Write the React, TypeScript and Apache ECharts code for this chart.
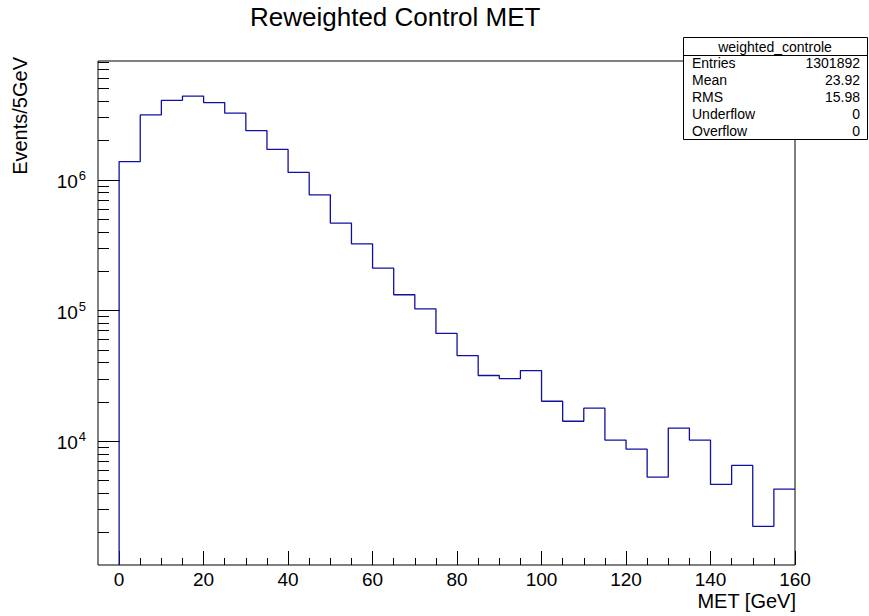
import React, { useEffect, useRef } from 'react';
import * as echarts from 'echarts';

// Histogram bins (lower edges, GeV) and contents (events per 5 GeV)
const binLowEdges = [0, 5, 10, 15, 20, 25, 30, 35, 40, 45, 50, 55, 60, 65, 70, 75, 80, 85, 90, 95, 100, 105, 110, 115, 120, 125, 130, 135, 140, 145, 150, 155];
const binUpperEdge = 160;
const eventsPerBin = [
  1.38e6, 3.14e6, 4.06e6, 4.38e6, 3.9e6, 3.24e6, 2.38e6, 1.71e6, 1.14e6, 7.68e5,
  4.67e5, 3.24e5, 2.11e5, 1.32e5, 1.03e5, 6.68e4, 4.52e4, 3.18e4, 3.01e4, 3.47e4,
  2.02e4, 1.42e4, 1.79e4, 1.02e4, 8.69e3, 5.31e3, 1.26e4, 1.02e4, 4.67e3, 6.52e3,
  2.23e3, 4.3e3,
];

const xMin = -5;
const xMax = 160;
const yMin = 1128;
const yMax = 8.12e6;

const xMajorTicks = [0, 20, 40, 60, 80, 100, 120, 140, 160];
const xMinorTicks = [5, 10, 15, 25, 30, 35, 45, 50, 55, 65, 70, 75, 85, 90, 95, 105, 110, 115, 125, 130, 135, 145, 150, 155];
const yMajorTicks = [1e4, 1e5, 1e6];
const yMinorTicks = [
  2e3, 3e3, 4e3, 5e3, 6e3, 7e3, 8e3, 9e3,
  2e4, 3e4, 4e4, 5e4, 6e4, 7e4, 8e4, 9e4,
  2e5, 3e5, 4e5, 5e5, 6e5, 7e5, 8e5, 9e5,
  2e6, 3e6, 4e6, 5e6, 6e6, 7e6, 8e6,
];

const chartTitle = 'Reweighted Control MET';
const xTitle = 'MET [GeV]';
const yTitle = 'Events/5GeV';
const statsName = 'weighted_controle';
const statsLabels = ['Entries', 'Mean', 'RMS', 'Underflow', 'Overflow'];
const statsValues = ['1301892', '23.92', '15.98', '0', '0'];

const FONT = '"Liberation Sans", Arial, Helvetica, sans-serif';

export default function App() {
  const ref = useRef<HTMLDivElement>(null);

  useEffect(() => {
    if (!ref.current) return;
    const chart = echarts.init(ref.current, undefined, { renderer: 'svg' });

    const histData: [number, number][] = [[binLowEdges[0], yMin]];
    binLowEdges.forEach((e, i) => histData.push([e, eventsPerBin[i]]));
    histData.push([binUpperEdge, eventsPerBin[eventsPerBin.length - 1]]);

    const gL = 98, gT = 61, gW = 697, gH = 504;

    const boxX = 683, boxY = 37, boxW = 184, boxH = 102, headH = 18;
    const rowH = (boxH - headH) / statsLabels.length;

    const graphic: any[] = [
      {
        type: 'text', x: 250, y: 17, z: 100,
        style: { text: chartTitle, font: `26px ${FONT}`, fill: '#000', align: 'left', verticalAlign: 'middle', textAlign: 'left', textVerticalAlign: 'middle' },
      },
      {
        type: 'text', x: 20, y: 57, rotation: Math.PI / 2, z: 100,
        style: { text: yTitle, font: `20px ${FONT}`, fill: '#000', align: 'right', verticalAlign: 'middle', textAlign: 'right', textVerticalAlign: 'middle' },
      },
      {
        type: 'text', x: 796, y: 601, z: 100,
        style: { text: xTitle, font: `20px ${FONT}`, fill: '#000', align: 'right', verticalAlign: 'middle', textAlign: 'right', textVerticalAlign: 'middle' },
      },
      {
        type: 'rect', z: 100,
        shape: { x: boxX + 0.5, y: boxY + 0.5, width: boxW, height: boxH },
        style: { fill: '#fff', stroke: '#000', lineWidth: 1 },
      },
      {
        type: 'line', z: 101,
        shape: { x1: boxX, y1: boxY + headH + 0.5, x2: boxX + boxW, y2: boxY + headH + 0.5 },
        style: { stroke: '#000', lineWidth: 1 },
      },
      {
        type: 'text', x: boxX + boxW / 2, y: boxY + headH / 2 + 0.5, z: 101,
        style: { text: statsName, font: `14px ${FONT}`, fill: '#000', align: 'center', verticalAlign: 'middle', textAlign: 'center', textVerticalAlign: 'middle' },
      },
    ];
    statsLabels.forEach((lab, i) => {
      const cy = boxY + headH + rowH * (i + 0.5);
      graphic.push({
        type: 'text', x: boxX + 9, y: cy, z: 101,
        style: { text: lab, font: `14px ${FONT}`, fill: '#000', align: 'left', verticalAlign: 'middle', textAlign: 'left', textVerticalAlign: 'middle' },
      });
      graphic.push({
        type: 'text', x: boxX + boxW - 7, y: cy, z: 101,
        style: { text: statsValues[i], font: `14px ${FONT}`, fill: '#000', align: 'right', verticalAlign: 'middle', textAlign: 'right', textVerticalAlign: 'middle' },
      });
    });

    const option: any = {
      animation: false,
      backgroundColor: '#fff',
      grid: {
        left: gL, top: gT, width: gW, height: gH,
        show: true, borderColor: '#000', borderWidth: 1, backgroundColor: 'transparent',
        containLabel: false,
      },
      xAxis: [
        {
          type: 'value', min: xMin, max: xMax, position: 'bottom',
          axisLine: { show: false, onZero: false },
          splitLine: { show: false },
          axisTick: { show: true, inside: true, length: 14, customValues: xMajorTicks, lineStyle: { color: '#000', width: 1 } },
          axisLabel: { show: true, customValues: xMajorTicks, margin: 5, fontSize: 19, color: '#000', fontFamily: FONT },
        },
        {
          type: 'value', min: xMin, max: xMax, position: 'bottom',
          axisLine: { show: false, onZero: false },
          splitLine: { show: false },
          axisTick: { show: true, inside: true, length: 7, customValues: xMinorTicks, lineStyle: { color: '#000', width: 1 } },
          axisLabel: { show: false },
        },
      ],
      yAxis: [
        {
          type: 'log', logBase: 10, min: yMin, max: yMax, position: 'left',
          axisLine: { show: false, onZero: false },
          splitLine: { show: false },
          axisTick: { show: true, inside: true, length: 22, customValues: yMajorTicks, lineStyle: { color: '#000', width: 1 } },
          axisLabel: {
            show: true, customValues: yMajorTicks, margin: 12,
            formatter: (v: number) => `{b|10}{s|${Math.round(Math.log10(v))}}`,
            rich: {
              b: { fontSize: 19, fontFamily: FONT, color: '#000', verticalAlign: 'bottom' },
              s: { fontSize: 13, fontFamily: FONT, color: '#000', verticalAlign: 'bottom', padding: [0, 0, 9, 1] },
            },
          },
        },
        {
          type: 'log', logBase: 10, min: yMin, max: yMax, position: 'left',
          axisLine: { show: false, onZero: false },
          splitLine: { show: false },
          axisTick: { show: true, inside: true, length: 11, customValues: yMinorTicks, lineStyle: { color: '#000', width: 1 } },
          axisLabel: { show: false },
        },
      ],
      series: [
        {
          type: 'line', xAxisIndex: 0, yAxisIndex: 0,
          step: 'end', symbol: 'none', showSymbol: false, clip: true,
          lineStyle: { color: '#10109f', width: 1.3 },
          data: histData,
        },
      ],
      graphic,
    };

    chart.setOption(option);
    return () => chart.dispose();
  }, []);

  return (
    <div
      ref={ref}
      style={{ position: 'fixed', left: 0, top: 0, width: 869, height: 616, background: '#fff' }}
    />
  );
}
